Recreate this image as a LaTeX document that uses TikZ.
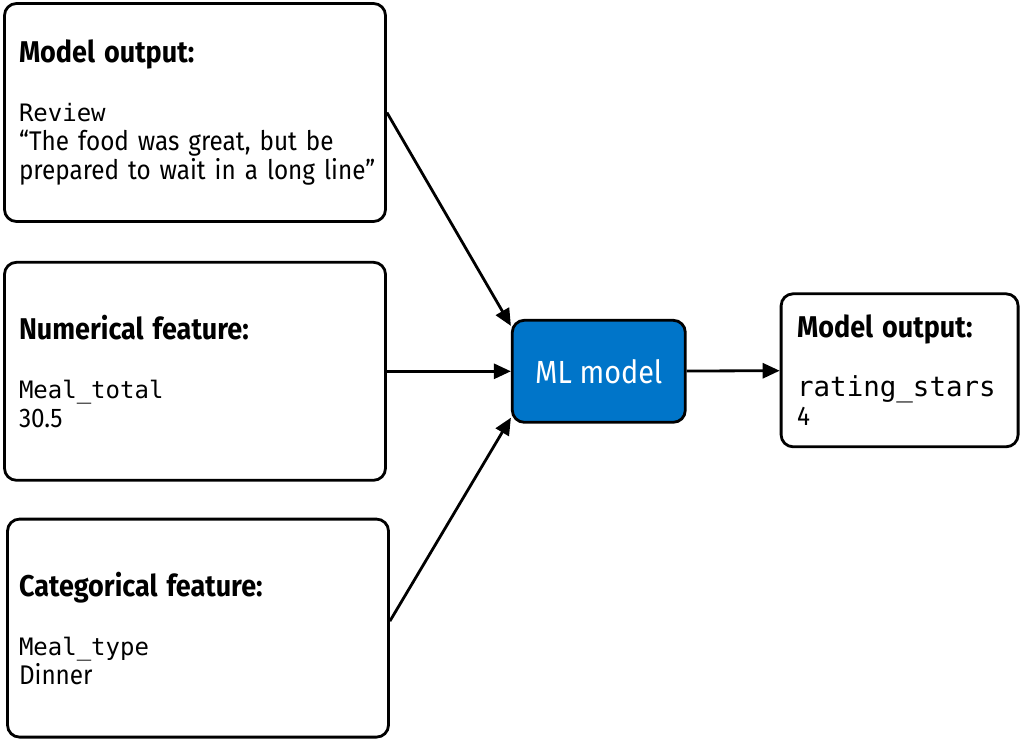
\documentclass[tikz,border=0pt]{standalone}
\usepackage{fontspec}
\setmainfont{Fira Sans}[FakeStretch=0.9]
\setmonofont{DejaVu Sans Mono}
\usetikzlibrary{arrows.meta,positioning}
\definecolor{MLBlue}{HTML}{0075C9}
\newcommand{\boxtitle}[1]{{\bfseries\fontsize{30}{36}\selectfont #1}}
\newcommand{\fieldname}[1]{{\ttfamily\fontsize{24}{29}\selectfont #1}}
\newcommand{\outfield}[1]{{\ttfamily\fontsize{27.5}{29}\selectfont #1}}

\begin{document}
\begin{tikzpicture}[x=1pt,y=-1pt,
  inbox/.style={draw,line width=2.8pt,rounded corners=12pt,minimum width=381pt,minimum height=218pt,text width=352pt,inner xsep=14.5pt,align=left,font=\fontsize{27}{29}\selectfont},
  outbox/.style={draw,line width=2.8pt,rounded corners=12pt,minimum width=237pt,minimum height=153pt,text width=205pt,inner xsep=16pt,align=left,font=\fontsize{27}{29}\selectfont},
  mlbox/.style={draw,fill=MLBlue,text=white,line width=2.8pt,rounded corners=12pt,minimum width=173pt,minimum height=102pt,font=\fontsize{32}{36}\selectfont},
  conn/.style={-{Triangle[length=17pt,width=15pt]},line width=2.8pt}]
\useasboundingbox (0,0) rectangle (1024,743);
\node[inbox] (review) at (195,112.5) {\boxtitle{Model output:}\\[30pt]\fieldname{Review}\\\mbox{``The food was great, but be}\\\mbox{prepared to wait in a long line''}};
\node[inbox,below=38pt of review] (total) {\boxtitle{Numerical feature:}\\[30pt]\fieldname{Meal\_total}\\30.5};
\node[inbox,below=36pt of total,xshift=3pt,inner xsep=11.5pt,text width=358pt] (mealtype) {\boxtitle{Categorical feature:}\\[30pt]\fieldname{Meal\_type}\\Dinner};
\node[mlbox,right=124pt of total] (ml) {ML model};
\node[outbox,right=93pt of ml,yshift=1pt] (rating) {\boxtitle{Model output:}\\[30pt]\outfield{rating\_stars}\\4};
\draw[conn] (review.east) -- ([yshift=-7pt]ml.north west);
\draw[conn] (total) -- (ml);
\draw[conn] ([yshift=7pt]mealtype.east) -- ([yshift=6pt]ml.south west);
\draw[conn] (ml) -- (rating);
\end{tikzpicture}
\end{document}
